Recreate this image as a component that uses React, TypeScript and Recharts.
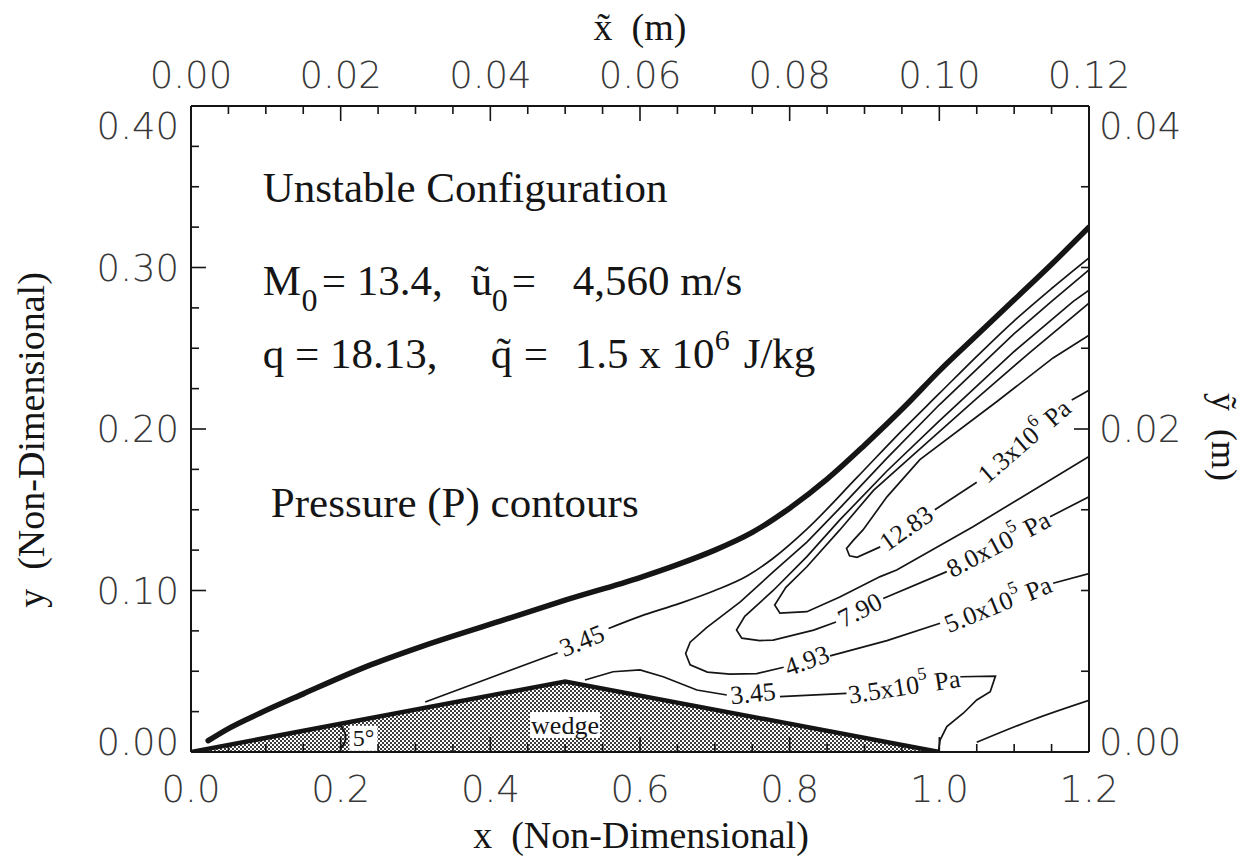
import React from "react";
import { ComposedChart, Line, Area, XAxis, YAxis, ReferenceDot } from "recharts";

type Pt = { x: number; y: number };
const pts = (a: number[][]): Pt[] => a.map(([x, y]) => ({ x, y }));

// axis ticks
const bottomTicks = [0, 0.05, 0.1, 0.15, 0.2, 0.25, 0.3, 0.35, 0.4, 0.45, 0.5, 0.55, 0.6, 0.65, 0.7, 0.75, 0.8, 0.85, 0.9, 0.95, 1.0, 1.05, 1.1, 1.15, 1.2];
const bottomMajor = [0, 0.2, 0.4, 0.6, 0.8, 1.0, 1.2];
const topTicks = [0, 0.005, 0.01, 0.015, 0.02, 0.025, 0.03, 0.035, 0.04, 0.045, 0.05, 0.055, 0.06, 0.065, 0.07, 0.075, 0.08, 0.085, 0.09, 0.095, 0.1, 0.105, 0.11, 0.115, 0.12];
const topMajor = [0, 0.02, 0.04, 0.06, 0.08, 0.1, 0.12];
const leftTicks = [0, 0.025, 0.05, 0.075, 0.1, 0.125, 0.15, 0.175, 0.2, 0.225, 0.25, 0.275, 0.3, 0.325, 0.35, 0.375, 0.4];
const leftMajor = [0, 0.1, 0.2, 0.3, 0.4];
const rightTicks = [0, 0.005, 0.01, 0.015, 0.02, 0.025, 0.03, 0.035, 0.04];
const rightMajor = [0, 0.02, 0.04];

// geometry
const wedge = pts([[0, 0], [0.5, 0.0437], [1.0, 0]]);
const wedgeArc = pts([[0.199, 0.0015], [0.2055, 0.006], [0.2065, 0.009], [0.2055, 0.012], [0.1995, 0.0165]]);

const shockFront = pts([
  [0.023, 0.007], [0.05, 0.0145], [0.092, 0.024], [0.15, 0.036], [0.235, 0.053], [0.3, 0.064],
  [0.413, 0.081], [0.5, 0.094], [0.6, 0.108], [0.65, 0.116], [0.7, 0.125], [0.75, 0.136],
  [0.8, 0.151], [0.85, 0.169], [0.9, 0.19], [0.956, 0.215], [1.0, 0.236], [1.05, 0.258],
  [1.1, 0.28], [1.15, 0.302], [1.2, 0.325],
]);

// P = 3.45, upper branch (under shock)
const p345UpperA = pts([[0.313, 0.031], [0.4, 0.046], [0.49, 0.0615]]);
const p345UpperB = pts([
  [0.558, 0.0765], [0.6, 0.084], [0.653, 0.092], [0.7, 0.1], [0.743, 0.109], [0.778, 0.12],
  [0.823, 0.138], [0.89, 0.17], [0.95, 0.199], [1.0, 0.222], [1.05, 0.245], [1.1, 0.267],
  [1.15, 0.287], [1.2, 0.306],
]);
// P = 3.45, lower piece near the wedge
const p345LowerA = pts([[0.5265, 0.0446], [0.564, 0.0497], [0.6, 0.0508], [0.631, 0.0466], [0.676, 0.0384], [0.716, 0.0353]]);
const p345LowerB = pts([[0.787, 0.0343], [0.876, 0.0363]]);
const p345LowerC = pts([
  [1.028, 0.0466], [1.075, 0.047], [1.068, 0.0373], [1.05, 0.0322], [1.032, 0.024],
  [1.01, 0.0157], [1.001, 0.0074], [0.9987, 0.0],
]);
// P = 4.93
const p493A = pts([
  [1.2, 0.2985], [1.15, 0.279], [1.1, 0.259], [1.0, 0.215], [0.93, 0.182], [0.867, 0.151],
  [0.823, 0.13], [0.778, 0.1115], [0.734, 0.093], [0.689, 0.077], [0.667, 0.068], [0.661, 0.061],
  [0.667, 0.054], [0.69, 0.0495], [0.72, 0.0482], [0.756, 0.0485], [0.792, 0.0525],
]);
const p493B = pts([[0.854, 0.0595], [0.93, 0.069], [1.001, 0.0797]]);
const p493C = pts([[1.152, 0.1045], [1.2, 0.1105]]);
// P = 7.90
const p790A = pts([
  [1.2, 0.286], [1.179, 0.279], [1.1, 0.248], [1.0, 0.205], [0.93, 0.174], [0.867, 0.1437],
  [0.823, 0.121], [0.778, 0.1], [0.74, 0.084], [0.729, 0.0755], [0.736, 0.0705], [0.76, 0.069],
  [0.778, 0.0693], [0.832, 0.0755], [0.862, 0.0805],
]);
const p790B = pts([[0.925, 0.095], [1.01, 0.1117]]);
const p790C = pts([[1.148, 0.1457], [1.2, 0.158]]);
// unlabelled level between 7.90 and 12.83
const pMid = pts([
  [1.2, 0.278], [1.12, 0.247], [1.05, 0.219], [0.97, 0.186], [0.912, 0.162], [0.867, 0.1375],
  [0.823, 0.1147], [0.795, 0.102], [0.78, 0.091], [0.787, 0.086], [0.823, 0.0869], [0.867, 0.096],
  [0.921, 0.1086], [0.943, 0.1127], [1.045, 0.1395], [1.2, 0.183],
]);
// P = 12.83
const p1283A = pts([
  [1.2, 0.258], [1.152, 0.244], [1.077, 0.217], [0.974, 0.181], [0.93, 0.158], [0.898, 0.1375],
  [0.885, 0.131], [0.876, 0.126], [0.88, 0.1215], [0.89, 0.1205], [0.921, 0.127],
]);
const p1283B = pts([[0.994, 0.15], [1.05, 0.167]]);
const p1283C = pts([[1.177, 0.218], [1.2, 0.224]]);
// small level in the lower right corner
const pCorner = pts([[1.05, 0.006], [1.125, 0.02], [1.2, 0.032]]);

// contours whose x runs one way can be drawn smooth
const smoothSegments = [p345UpperA, p345UpperB, pCorner];
const contourSegments = [
  p345LowerA, p345LowerB, p345LowerC,
  p493A, p493B, p493C, p790A, p790B, p790C, pMid,
  p1283A, p1283B, p1283C,
];

// contour labels: position in data units, text, tilt in degrees
const contourLabels = [
  { x: 0.5225, y: 0.0688, base: "3.45", sup: "", tail: "", angle: -22 },
  { x: 0.751, y: 0.0362, base: "3.45", sup: "", tail: "", angle: -6 },
  { x: 0.953, y: 0.0405, base: "3.5x10", sup: "5", tail: " Pa", angle: -9 },
  { x: 0.823, y: 0.0565, base: "4.93", sup: "", tail: "", angle: -20 },
  { x: 1.0785, y: 0.0915, base: "5.0x10", sup: "5", tail: " Pa", angle: -22 },
  { x: 0.894, y: 0.0878, base: "7.90", sup: "", tail: "", angle: -27 },
  { x: 1.079, y: 0.1287, base: "8.0x10", sup: "5", tail: " Pa", angle: -28 },
  { x: 0.956, y: 0.1385, base: "12.83", sup: "", tail: "", angle: -35 },
  { x: 1.1135, y: 0.1925, base: "1.3x10", sup: "6", tail: " Pa", angle: -41 },
];

const INK = "#151515";
const TICK_INK = "#383838";
const SERIF = "'Liberation Serif', 'Times New Roman', serif";
const SANS = "'DejaVu Sans', sans-serif";
const MAJOR = 15;
const MINOR = 8;
const TICK_FONT = 37;

const isIn = (list: number[], v: number) => list.some((m) => Math.abs(m - v) < 1e-9);

function BottomTick(props: any) {
  const { x, y, payload } = props;
  const v = payload.value as number;
  const major = isIn(bottomMajor, v);
  return (
    <g>
      <line x1={x} x2={x} y1={y} y2={y - (major ? MAJOR : MINOR)} stroke={INK} strokeWidth={1.6} />
      {major && (
        <text x={x} y={y + 50} textAnchor="middle" fontFamily={SANS} fontSize={TICK_FONT} fontWeight={200} fill={TICK_INK}>
          {v.toFixed(1)}
        </text>
      )}
    </g>
  );
}

function TopTick(props: any) {
  const { x, y, payload } = props;
  const v = payload.value as number;
  const major = isIn(topMajor, v);
  return (
    <g>
      <line x1={x} x2={x} y1={y} y2={y + (major ? MAJOR : MINOR)} stroke={INK} strokeWidth={1.6} />
      {major && (
        <text x={x} y={y - 18} textAnchor="middle" fontFamily={SANS} fontSize={TICK_FONT} fontWeight={200} fill={TICK_INK}>
          {v.toFixed(2)}
        </text>
      )}
    </g>
  );
}

function SideTick(props: any, majors: number[], side: "left" | "right", max: number) {
  const { x, y, payload } = props;
  const v = payload.value as number;
  const major = isIn(majors, v);
  const dir = side === "left" ? 1 : -1;
  const shift = Math.abs(v - max) < 1e-9 ? 20 : Math.abs(v) < 1e-9 ? -10 : 0;
  return (
    <g>
      <line x1={x} x2={x + dir * (major ? MAJOR : MINOR)} y1={y} y2={y} stroke={INK} strokeWidth={1.6} />
      {major && (
        <text
          x={side === "left" ? x - 12 : x + 10}
          y={y + 13 + shift}
          textAnchor={side === "left" ? "end" : "start"}
          fontFamily={SANS}
          fontSize={TICK_FONT}
          fontWeight={200}
          fill={TICK_INK}
        >
          {v.toFixed(2)}
        </text>
      )}
    </g>
  );
}

function ContourLabel({ cx, cy, item }: any) {
  return (
    <text
      x={cx}
      y={cy}
      transform={`rotate(${item.angle} ${cx} ${cy})`}
      textAnchor="middle"
      dominantBaseline="central"
      fontFamily={SERIF}
      fontSize={26}
      fill={INK}
      style={{ whiteSpace: "pre" }}
    >
      {item.base}
      {item.sup && (
        <tspan dy={-10} fontSize={18}>
          {item.sup}
        </tspan>
      )}
      {item.tail && <tspan dy={item.sup ? 10 : 0}>{item.tail}</tspan>}
    </text>
  );
}

function BoxedLabel({ cx, cy, text, w, h, size }: any) {
  return (
    <g>
      <rect x={cx - w / 2} y={cy - h / 2} width={w} height={h} fill="#fff" />
      <text x={cx} y={cy} textAnchor="middle" dominantBaseline="central" fontFamily={SERIF} fontSize={size} fill={INK}>
        {text}
      </text>
    </g>
  );
}

const BIG = 43;

function InfoBlock({ cx, cy, line }: any) {
  const common = { fontFamily: SERIF, fontSize: BIG, fill: INK, style: { whiteSpace: "pre" as const } };
  if (line === "title") return <text x={cx} y={cy} {...common}>Unstable Configuration</text>;
  if (line === "legend") return <text x={cx} y={cy} {...common}>Pressure (P) contours</text>;
  if (line === "mach")
    return (
      <text x={cx} y={cy} {...common}>
        <tspan x={cx}>M</tspan>
        <tspan x={cx + 38.7} dy={16} fontSize={32}>0</tspan>
        <tspan x={cx + 59} dy={-16}>= 13.4,</tspan>
        <tspan x={cx + 208}>ũ</tspan>
        <tspan x={cx + 229} dy={16} fontSize={32}>0</tspan>
        <tspan x={cx + 249} dy={-16}>=</tspan>
        <tspan x={cx + 310}>4,560 m/s</tspan>
      </text>
    );
  return (
    <text x={cx} y={cy} {...common}>
      <tspan x={cx}>q = 18.13,</tspan>
      <tspan x={cx + 228}>q̃</tspan>
      <tspan x={cx + 261}>=</tspan>
      <tspan x={cx + 312}>1.5 x 10</tspan>
      <tspan x={cx + 452} dy={-18} fontSize={30}>6</tspan>
      <tspan x={cx + 481} dy={18}>J/kg</tspan>
    </text>
  );
}

const infoLines = [
  { x: 0.0958, y: 0.3407, line: "title" },
  { x: 0.0958, y: 0.2830, line: "mach" },
  { x: 0.0958, y: 0.2376, line: "heat" },
  { x: 0.1067, y: 0.1455, line: "legend" },
];

export default function App() {
  return (
    <div style={{ position: "absolute", left: 0, top: 0, width: 1248, height: 861, background: "#fff" }}>
      <ComposedChart width={1248} height={861} margin={{ top: 66, right: 79, bottom: 69, left: 111 }}>
        <defs>
          <pattern id="halftone" width="4" height="4" patternUnits="userSpaceOnUse">
            <rect width="4" height="4" fill="#fff" />
            <rect x="0" y="0" width="2" height="2" fill="#3c3c3c" />
            <rect x="2" y="2" width="2" height="2" fill="#3c3c3c" />
          </pattern>
        </defs>
        <XAxis
          dataKey="x"
          type="number"
          domain={[0, 1.2]}
          ticks={bottomTicks}
          interval={0}
          allowDataOverflow
          height={40}
          tickSize={0}
          tickMargin={0}
          tickLine={false}
          axisLine={{ stroke: INK, strokeWidth: 2 }}
          tick={(p: any) => <BottomTick {...p} />}
        />
        <XAxis
          xAxisId="top"
          orientation="top"
          dataKey="x"
          type="number"
          domain={[0, 0.12]}
          ticks={topTicks}
          interval={0}
          allowDataOverflow
          height={40}
          tickSize={0}
          tickMargin={0}
          tickLine={false}
          axisLine={{ stroke: INK, strokeWidth: 2 }}
          tick={(p: any) => <TopTick {...p} />}
        />
        <YAxis
          type="number"
          domain={[0, 0.4]}
          ticks={leftTicks}
          interval={0}
          allowDataOverflow
          width={80}
          tickSize={0}
          tickMargin={0}
          tickLine={false}
          axisLine={{ stroke: INK, strokeWidth: 2 }}
          tick={(p: any) => SideTick(p, leftMajor, "left", 0.4)}
        />
        <YAxis
          yAxisId="right"
          orientation="right"
          type="number"
          domain={[0, 0.04]}
          ticks={rightTicks}
          interval={0}
          allowDataOverflow
          width={80}
          tickSize={0}
          tickMargin={0}
          tickLine={false}
          axisLine={{ stroke: INK, strokeWidth: 2 }}
          tick={(p: any) => SideTick(p, rightMajor, "right", 0.04)}
        />

        <Area
          data={wedge}
          dataKey="y"
          type="linear"
          stroke={INK}
          strokeWidth={4.5}
          fill="url(#halftone)"
          fillOpacity={1}
          baseValue={0}
          dot={false}
          activeDot={false}
          isAnimationActive={false}
        />
        {smoothSegments.map((seg, i) => (
          <Line
            key={`s${i}`}
            data={seg}
            dataKey="y"
            type="monotone"
            stroke={INK}
            strokeWidth={1.7}
            dot={false}
            activeDot={false}
            isAnimationActive={false}
          />
        ))}
        {contourSegments.map((seg, i) => (
          <Line
            key={`c${i}`}
            data={seg}
            dataKey="y"
            type="linear"
            stroke={INK}
            strokeWidth={1.7}
            dot={false}
            activeDot={false}
            isAnimationActive={false}
          />
        ))}
        <Line
          data={shockFront}
          dataKey="y"
          type="monotone"
          stroke={INK}
          strokeWidth={5.5}
          strokeLinecap="round"
          dot={false}
          activeDot={false}
          isAnimationActive={false}
        />
        <Line
          data={pts([[0, 0], [0, 0]])}
          xAxisId="top"
          yAxisId="right"
          dataKey="y"
          stroke="none"
          dot={false}
          activeDot={false}
          isAnimationActive={false}
        />

        <ReferenceDot x={0.2305} y={0.0085} r={0} shape={(p: any) => <BoxedLabel {...p} text="5°" w={28} h={25} size={24} />} />
        <Line
          data={wedgeArc}
          dataKey="y"
          type="natural"
          stroke={INK}
          strokeWidth={1.8}
          dot={false}
          activeDot={false}
          isAnimationActive={false}
        />
        <ReferenceDot x={0.4998} y={0.0167} r={0} shape={(p: any) => <BoxedLabel {...p} text="wedge" w={70} h={26} size={26} />} />

        {contourLabels.map((l, i) => (
          <ReferenceDot key={`l${i}`} x={l.x} y={l.y} r={0} shape={(p: any) => <ContourLabel {...p} item={l} />} />
        ))}
        {infoLines.map((t) => (
          <ReferenceDot key={t.line} x={t.x} y={t.y} r={0} shape={(p: any) => <InfoBlock {...p} line={t.line} />} />
        ))}
      </ComposedChart>

      <svg width={1248} height={861} style={{ position: "absolute", left: 0, top: 0, pointerEvents: "none" }}>
        <text x={640} y={40} textAnchor="middle" fontFamily={SERIF} fontSize={38} fill={INK} style={{ whiteSpace: "pre" }}>
          x̃  (m)
        </text>
        <text x={641} y={848} textAnchor="middle" fontFamily={SERIF} fontSize={38} fill={INK} style={{ whiteSpace: "pre" }}>
          x  (Non-Dimensional)
        </text>
        <text transform="translate(44 440) rotate(-90)" textAnchor="middle" fontFamily={SERIF} fontSize={38} fill={INK} style={{ whiteSpace: "pre" }}>
          y  (Non-Dimensional)
        </text>
        <text transform="translate(1212 437) rotate(90)" textAnchor="middle" fontFamily={SERIF} fontSize={36} fill={INK} style={{ whiteSpace: "pre" }}>
          ỹ  (m)
        </text>
      </svg>
    </div>
  );
}
